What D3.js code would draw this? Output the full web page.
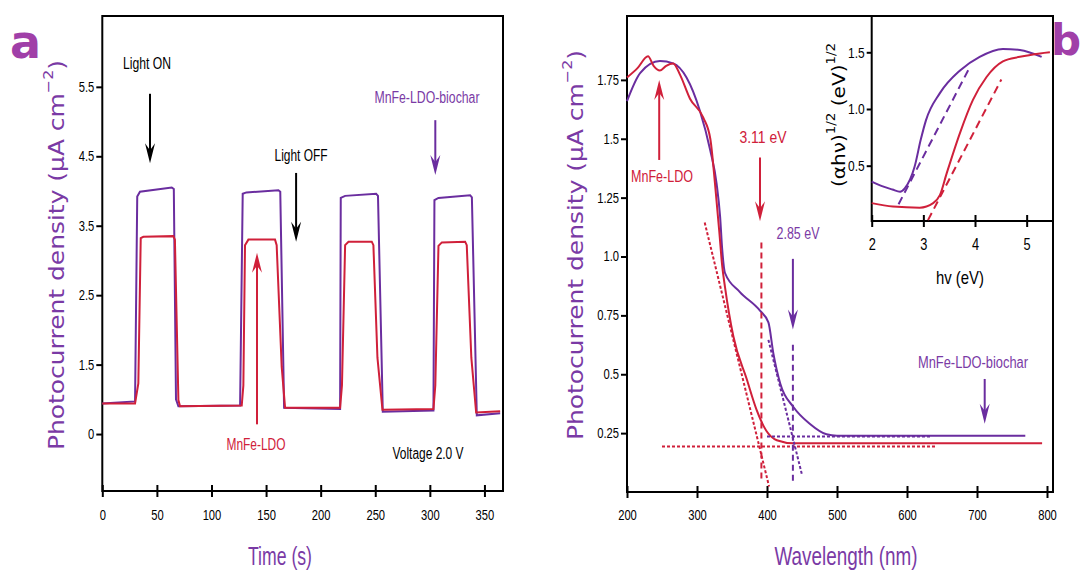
<!DOCTYPE html>
<html>
<head>
<meta charset="utf-8">
<script src="https://cdn.jsdelivr.net/npm/d3@7"></script>
<style>
  body { margin: 0; background: #fff; }
  text { font-family: "Liberation Sans", sans-serif; }
  .title { font-family: "DejaVu Sans", sans-serif; }
  .nx { transform-box: fill-box; transform-origin: center; transform: scaleX(0.8); }
  .ny { transform-box: fill-box; transform-origin: right center; transform: scaleX(0.8); }
</style>
</head>
<body>
<svg id="fig" width="1083" height="572"></svg>
<script>
// ---- panel a : photocurrent vs time ----
var biocharTime = [0,30,32,34.5,63.6,65.5,67.5,69.7,126.2,128.6,132,161.3,163,166.5,217.8,218.4,222.4,250.8,252.5,256.9,303.3,304.2,307.9,336.9,338.5,343,364.4];
var biocharCurrent = [0.94,0.97,3.92,3.99,4.05,4.03,1.0,0.90,0.91,3.96,3.98,4.01,3.99,0.88,0.86,3.90,3.93,3.96,3.93,0.82,0.84,3.87,3.90,3.94,3.91,0.77,0.80];
var ldoTime = [0,30,33,35.2,37.6,65,66.5,69.7,71.2,127.7,129.2,130.7,133.8,158.2,159.7,164.3,167.4,217.8,219.5,222.4,225.5,246.8,248.3,252,256.6,303.3,305,307.9,311,332.3,333.8,338,342.4,364.4];
var ldoCurrent = [0.94,0.94,1.23,3.32,3.34,3.35,3.30,0.99,0.90,0.91,1.20,3.22,3.30,3.30,3.22,1.47,0.88,0.88,1.2,3.22,3.27,3.27,3.22,1.6,0.85,0.86,1.2,3.21,3.26,3.27,3.22,1.6,0.81,0.83];
var timeTicks = [0,50,100,150,200,250,300,350];
var currentTicks = [0.5,1.5,2.5,3.5,4.5,5.5];
var currentTickLabels = ["0","1.5","2.5","3.5","4.5","5.5"];

// ---- panel b : spectra ----
var wlLdo = [200,215,230,238,247,256,266,276,290,309,319,326,332,336,340,352,371,385,399,414,438,500,600,700,793];
var absLdo = [1.76,1.80,1.85,1.81,1.79,1.81,1.82,1.77,1.67,1.59,1.50,1.30,1.10,0.96,0.87,0.66,0.48,0.35,0.26,0.22,0.207,0.207,0.207,0.207,0.207];
var wlBiochar = [200,219,247,266,285,304,319,328,333,336,340,361,390,402,409,419,438,461,485,500,600,700,769];
var absBiochar = [1.66,1.78,1.83,1.82,1.76,1.62,1.45,1.31,1.17,1.03,0.93,0.85,0.77,0.72,0.59,0.46,0.36,0.29,0.245,0.239,0.239,0.239,0.239];
var wlTicks = [200,300,400,500,600,700,800];
var absTicks = [0.25,0.5,0.75,1.0,1.25,1.5,1.75];
var absTickLabels = ["0.25","0.5","0.75","1.0","1.25","1.5","1.75"];
// fit lines [x, y]
var ldoTangent = [[311,1.144],[403,0.023]];
var ldoBase = [[250,0.193],[642,0.193]];
var biocharTangent = [[402,0.646],[450,0.073]];
var biocharBase = [[400,0.236],[633,0.236]];
var ldoEdge = [[392,1.06],[392,0.045]];
var biocharEdge = [[437,0.625],[437,0.04]];

// ---- inset : Tauc plot ----
var hvBiochar = [2.0,2.2,2.4,2.55,2.64,2.83,2.95,3.05,3.32,3.71,4.09,4.54,4.87,5.29];
var taucBiochar = [0.36,0.32,0.29,0.27,0.30,0.49,0.73,0.90,1.14,1.34,1.46,1.53,1.52,1.46];
var hvLdo = [2.0,2.41,2.93,3.19,3.32,3.45,3.71,3.96,4.22,4.54,4.87,5.26,5.45];
var taucLdo = [0.17,0.14,0.13,0.17,0.24,0.43,0.79,1.08,1.28,1.42,1.46,1.49,1.50];
var biocharTauc = [[2.52,0.16],[3.90,1.37]];
var ldoTauc = [[3.09,0.02],[4.51,1.26]];
var hvTicks = [2,3,4,5];
var taucTicks = [0.5,1.0,1.5];

var purple = "#6a2d9f", red = "#d0203a", titleCol = "#7a3aa5", letterCol = "#a03fa8";

var svg = d3.select("#fig");

function zip(xs, ys) { return xs.map(function(x, i) { return [x, ys[i]]; }); }

// arrow from (x1,y1) to tip (x2,y2) in pixels
function arrow(g, x1, y1, x2, y2, col) {
  var dir = y2 > y1 ? 1 : -1;
  g.append("line").attr("x1", x1).attr("y1", y1).attr("x2", x2).attr("y2", y2 - dir * 8)
    .attr("stroke", col).attr("stroke-width", 2);
  g.append("path")
    .attr("d", "M" + x2 + "," + y2 + " L" + (x2 - 5) + "," + (y2 - dir * 20) + " L" + x2 + "," + (y2 - dir * 13) + " L" + (x2 + 5) + "," + (y2 - dir * 20) + " Z")
    .attr("fill", col);
}

// narrow label centred on (x,y) squeezed to width w
function label(g, x, y, txt, w, size, col) {
  return g.append("text").attr("x", x).attr("y", y).attr("text-anchor", "middle")
    .attr("dominant-baseline", "central").attr("font-size", size).attr("fill", col || "#000")
    .attr("textLength", w).attr("lengthAdjust", "spacingAndGlyphs").text(txt);
}

function crossTicks(g) {
  g.selectAll(".tick line").attr("y1", -6).attr("y2", 6).attr("stroke-width", 2);
  g.select(".domain").remove();
}

function ytitle(g, x, y, len) {
  var t = g.append("text").attr("class", "title").attr("transform", "translate(" + x + "," + y + ") rotate(-90)")
    .attr("text-anchor", "middle").attr("dominant-baseline", "central").attr("font-size", 22)
    .attr("fill", titleCol).attr("textLength", len).attr("lengthAdjust", "spacingAndGlyphs");
  t.append("tspan").text("Photocurrent density (μA cm");
  t.append("tspan").attr("baseline-shift", "super").attr("font-size", 14).text("−2");
  t.append("tspan").text(")");
}

// ================= panel a =================
var xA = d3.scaleLinear().domain([0, 367]).range([102.3, 503]);
var yA = d3.scaleLinear().domain([-0.32, 6.52]).range([491, 16]);
var ga = svg.append("g");

ga.append("rect").attr("x", 102.3).attr("y", 16).attr("width", 503 - 102.3).attr("height", 475)
  .attr("fill", "none").attr("stroke", "#000").attr("stroke-width", 2);

var axA = ga.append("g").attr("transform", "translate(0,491)")
  .call(d3.axisBottom(xA).tickValues(timeTicks).tickSize(6).tickPadding(13));
crossTicks(axA);
axA.selectAll("text").attr("font-size", 14).attr("fill", "#000").attr("class", "nx");

var ayA = ga.append("g").attr("transform", "translate(102.3,0)")
  .call(d3.axisLeft(yA).tickValues(currentTicks).tickSize(6).tickPadding(2)
    .tickFormat(function(d, i) { return currentTickLabels[i]; }));
ayA.select(".domain").remove();
ayA.selectAll(".tick line").attr("stroke-width", 2);
ayA.selectAll("text").attr("font-size", 14).attr("fill", "#000").attr("class", "ny");

var lineA = d3.line().x(function(d) { return xA(d[0]); }).y(function(d) { return yA(d[1]); });
ga.append("path").datum(zip(biocharTime, biocharCurrent)).attr("d", lineA)
  .attr("fill", "none").attr("stroke", purple).attr("stroke-width", 2);
ga.append("path").datum(zip(ldoTime, ldoCurrent)).attr("d", lineA)
  .attr("fill", "none").attr("stroke", red).attr("stroke-width", 2);

// annotations
arrow(ga, xA(43.7), yA(5.4), xA(43.7), yA(4.4), "#000");
label(ga, 147, 63, "Light ON", 48, 16);
arrow(ga, xA(177.5), yA(4.26), xA(177.5), yA(3.27), "#000");
label(ga, 301, 155, "Light OFF", 53, 16);
arrow(ga, xA(305), yA(5.02), xA(305), yA(4.23), purple);
label(ga, 427, 97, "MnFe-LDO-biochar", 105, 16, titleCol);
arrow(ga, xA(141.7), yA(0.64), xA(141.7), yA(3.11), red);
label(ga, 256, 444, "MnFe-LDO", 59, 16, red);
label(ga, 428, 453, "Voltage 2.0 V", 71, 16);

label(ga, 280, 556, "Time (s)", 64, 25, titleCol);
ytitle(ga, 56, 255, 390);
ga.append("text").attr("class", "title").attr("x", 10).attr("y", 58).attr("font-size", 46).attr("font-weight", "bold")
  .attr("fill", letterCol).text("a");

// ================= panel b =================
var xB = d3.scaleLinear().domain([200, 810]).range([627, 1054]);
var yB = d3.scaleLinear().domain([0, 2.02]).range([492, 16.3]);
var gb = svg.append("g");

gb.append("rect").attr("x", 627).attr("y", 16).attr("width", 1053 - 627).attr("height", 476)
  .attr("fill", "none").attr("stroke", "#000").attr("stroke-width", 2);

var axB = gb.append("g").attr("transform", "translate(0,492)")
  .call(d3.axisBottom(xB).tickValues(wlTicks).tickSize(6).tickPadding(12));
crossTicks(axB);
axB.selectAll("text").attr("font-size", 14).attr("fill", "#000").attr("class", "nx");

var ayB = gb.append("g").attr("transform", "translate(627,0)")
  .call(d3.axisLeft(yB).tickValues(absTicks).tickSize(6).tickPadding(2)
    .tickFormat(function(d, i) { return absTickLabels[i]; }));
ayB.select(".domain").remove();
ayB.selectAll(".tick line").attr("stroke-width", 2);
ayB.selectAll("text").attr("font-size", 14).attr("fill", "#000").attr("class", "ny");

var lineB = d3.line().curve(d3.curveMonotoneX).x(function(d) { return xB(d[0]); }).y(function(d) { return yB(d[1]); });
var straightB = d3.line().x(function(d) { return xB(d[0]); }).y(function(d) { return yB(d[1]); });

gb.append("path").datum(zip(wlBiochar, absBiochar)).attr("d", lineB)
  .attr("fill", "none").attr("stroke", purple).attr("stroke-width", 2);
gb.append("path").datum(zip(wlLdo, absLdo)).attr("d", lineB)
  .attr("fill", "none").attr("stroke", red).attr("stroke-width", 2);

function fit(g, line, pts, col, dash) {
  g.append("path").datum(pts).attr("d", line).attr("fill", "none")
    .attr("stroke", col).attr("stroke-width", 2).attr("stroke-dasharray", dash);
}
fit(gb, straightB, ldoTangent, red, "3,2");
fit(gb, straightB, ldoBase, red, "3,2");
fit(gb, straightB, biocharTangent, purple, "3,2");
fit(gb, straightB, biocharBase, purple, "3,2");
fit(gb, straightB, ldoEdge, red, "6,4");
fit(gb, straightB, biocharEdge, purple, "6,4");

arrow(gb, xB(246), yB(1.41), xB(246), yB(1.75), red);
label(gb, 662, 176, "MnFe-LDO", 62, 17, red);
arrow(gb, xB(390), yB(1.42), xB(390), yB(1.15), red);
label(gb, 763, 137, "3.11 eV", 47, 17, red);
arrow(gb, xB(437), yB(0.99), xB(437), yB(0.69), purple);
label(gb, 798, 233, "2.85 eV", 43, 17, titleCol);
arrow(gb, xB(711), yB(0.48), xB(711), yB(0.29), purple);
label(gb, 973, 362, "MnFe-LDO-biochar", 110, 16, titleCol);

label(gb, 846, 556, "Wavelength (nm)", 143, 25, titleCol);
ytitle(gb, 575, 245, 390);
gb.append("text").attr("class", "title").attr("x", 1051).attr("y", 55).attr("font-size", 42).attr("font-weight", "bold")
  .attr("fill", letterCol).text("b");

// ================= inset =================
var xI = d3.scaleLinear().domain([2, 5.51]).range([871.7, 1053]);
var yI = d3.scaleLinear().domain([0, 1.82]).range([222.4, 16]);
var gi = svg.append("g");

gi.append("rect").attr("x", 871.7).attr("y", 16).attr("width", 1053 - 871.7).attr("height", 221 - 16)
  .attr("fill", "#fff").attr("stroke", "#000").attr("stroke-width", 2);

var axI = gi.append("g").attr("transform", "translate(0,221)")
  .call(d3.axisBottom(xI).tickValues(hvTicks).tickSize(6).tickPadding(12).tickFormat(d3.format("d")));
crossTicks(axI);
axI.selectAll("text").attr("font-size", 16).attr("fill", "#000").attr("class", "nx");

var ayI = gi.append("g").attr("transform", "translate(871.7,0)")
  .call(d3.axisLeft(yI).tickValues(taucTicks).tickSize(5).tickPadding(2).tickFormat(d3.format(".1f")));
ayI.select(".domain").remove();
ayI.selectAll(".tick line").attr("stroke-width", 2);
ayI.selectAll("text").attr("font-size", 15).attr("fill", "#000").attr("class", "ny");

var lineI = d3.line().curve(d3.curveMonotoneX).x(function(d) { return xI(d[0]); }).y(function(d) { return yI(d[1]); });
var straightI = d3.line().x(function(d) { return xI(d[0]); }).y(function(d) { return yI(d[1]); });
gi.append("path").datum(zip(hvBiochar, taucBiochar)).attr("d", lineI)
  .attr("fill", "none").attr("stroke", purple).attr("stroke-width", 2);
gi.append("path").datum(zip(hvLdo, taucLdo)).attr("d", lineI)
  .attr("fill", "none").attr("stroke", red).attr("stroke-width", 2);
fit(gi, straightI, biocharTauc, purple, "8,5");
fit(gi, straightI, ldoTauc, red, "8,5");

label(gi, 960, 277, "hv (eV)", 48, 19);
var tI = gi.append("text").attr("class", "title").attr("transform", "translate(838,115) rotate(-90)")
  .attr("text-anchor", "middle").attr("dominant-baseline", "central").attr("font-size", 18).attr("fill", "#000")
  .attr("textLength", 144).attr("lengthAdjust", "spacingAndGlyphs");
tI.append("tspan").text("(αhν)");
tI.append("tspan").attr("baseline-shift", "super").attr("font-size", 12).text("1/2");
tI.append("tspan").text(" (eV)");
tI.append("tspan").attr("baseline-shift", "super").attr("font-size", 12).text("1/2");
</script>
</body>
</html>
